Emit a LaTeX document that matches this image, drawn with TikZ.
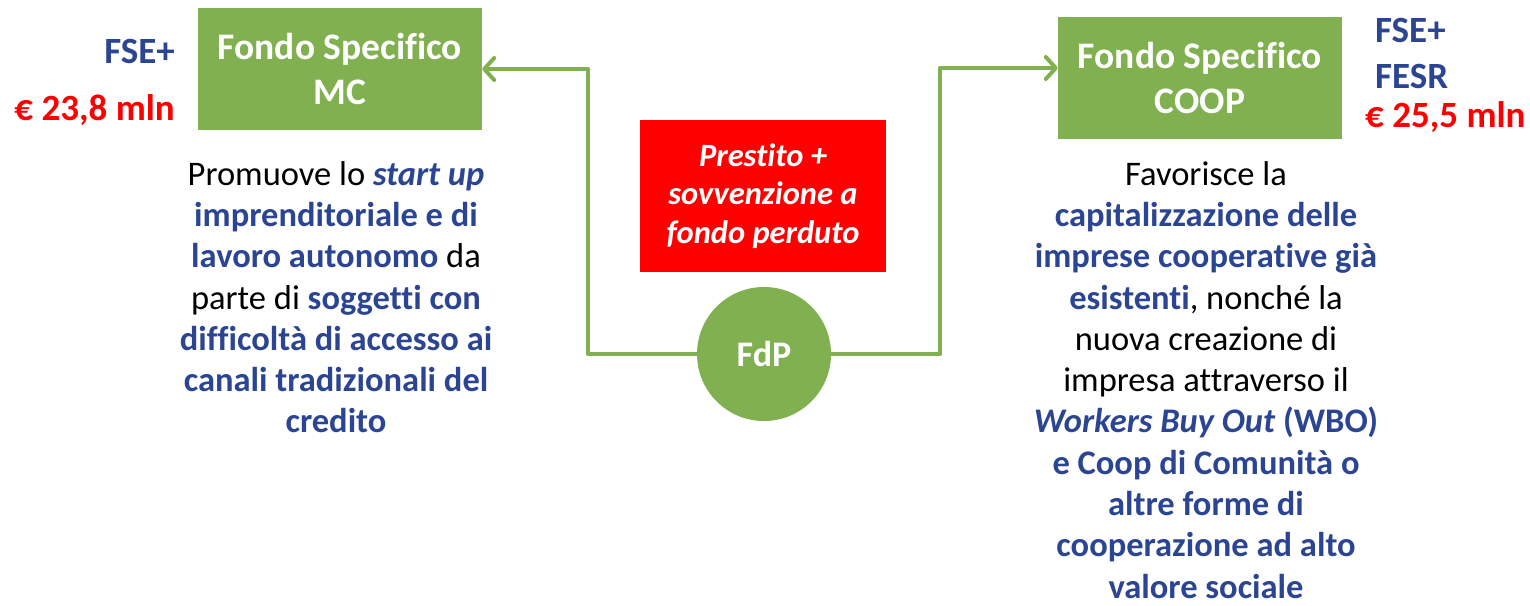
\documentclass[tikz,border=0pt]{standalone}
\usepackage{fontspec}
\setmainfont{Carlito}[Ligatures=NoCommon]
\usetikzlibrary{arrows.meta}
\definecolor{fgreen}{HTML}{80B04F}
\definecolor{fblue}{HTML}{2B4593}
\definecolor{fred}{HTML}{FF0000}
\newcommand{\hl}[1]{\textcolor{fblue}{\textbf{#1}}}
\newcommand{\hli}[1]{\textcolor{fblue}{\textbf{\textit{#1}}}}
\begin{document}
\begin{tikzpicture}[x=1pt,y=-1pt,
  fundbox/.style={fill=fgreen, text=white, font=\fontsize{37.5}{44.5}\selectfont\bfseries, align=center, minimum width=284pt, minimum height=122pt, inner sep=0pt},
  conn/.style={draw=fgreen, line width=4pt, line join=round},
  arr/.style={-{Straight Barb[length=10pt,width=22pt,line cap=round,line join=round]}},
  para/.style={font=\fontsize{34.5}{41.3}\selectfont, align=center, inner sep=0pt, anchor=north},
  lbl/.style={font=\fontsize{37}{43}\selectfont\bfseries, inner sep=0pt}]
\useasboundingbox[fill=white] (0,0) rectangle (1530,605);

\node[fundbox] (mc) at (340,69) {Fondo Specifico\\MC};
\node[fundbox] (coop) at (1200,78) {Fondo Specifico\\COOP};
\node[fill=fred, text=white, minimum width=246pt, minimum height=152pt, inner sep=0pt, align=center,
      font=\fontsize{32.5}{38.5}\selectfont\bfseries\itshape] (loan) at (763,196) {Prestito +\\sovvenzione a\\fondo perduto};
\node[circle, fill=fgreen, text=white, minimum size=134pt, inner sep=0pt, font=\fontsize{36}{43}\selectfont\bfseries] (fdp) at (764,354) {FdP};

\coordinate (lk) at (588,69);
\coordinate (rk) at (940,68);
\draw[conn,arr] (fdp.west) -- (fdp.west -| lk) -- (lk) -- (mc.east);
\draw[conn,arr] (fdp.east) -- (fdp.east -| rk) -- (rk) -- (rk -| coop.west);

\node[lbl, text=fblue, anchor=base east] (fse1) at (175,63) {FSE+};
\node[lbl, text=fred, anchor=base east] (amt1) at (175,120) {€ 23,8 mln};
\node[lbl, text=fblue, anchor=base west] (fse2) at (1375,42) {FSE+};
\node[lbl, text=fblue, anchor=base west] (fesr) at (1375,88) {FESR};
\node[lbl, text=fred, anchor=base west] (amt2) at (1365,127) {€ 25,5 mln};

\node[para] (descl) at (336,161) {Promuove lo \hli{start up}\\
\hl{imprenditoriale e di}\\
\hl{lavoro autonomo} da\\
parte di \hl{soggetti con}\\
\hl{difficoltà di accesso ai}\\
\hl{canali tradizionali del}\\
\hl{credito}};

\node[para] (descr) at (1206,161) {Favorisce la\\
\hl{capitalizzazione delle}\\
\hl{imprese cooperative già}\\
\hl{esistenti}, nonché la\\
nuova creazione di\\
impresa attraverso il\\
\hli{Workers Buy Out} \hl{(WBO)}\\
\hl{e Coop di Comunità o}\\
\hl{altre forme di}\\
\hl{cooperazione ad alto}\\
\hl{valore sociale}};
\end{tikzpicture}
\end{document}
